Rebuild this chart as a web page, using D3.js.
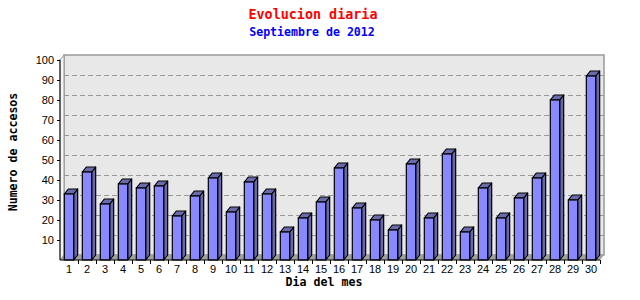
<!DOCTYPE html>
<html>
<head>
<meta charset="utf-8">
<script src="https://cdn.jsdelivr.net/npm/d3@7"></script>
<style>
  html, body { margin: 0; padding: 0; background: #fff; }
  svg { display: block; }
</style>
</head>
<body>
<svg id="chart" width="640" height="300"></svg>
<script>
const days = d3.range(1, 31).map(String);
const accesos = [33, 44, 28, 38, 36, 37, 22, 32, 41, 24, 39, 33, 14, 21, 29, 46, 26, 20, 15, 48, 21, 53, 14, 36, 21, 31, 41, 80, 30, 92];
const yTicks = [10, 20, 30, 40, 50, 60, 70, 80, 90, 100];
const titleText = "Evolucion diaria";
const subtitleText = "Septiembre de 2012";
const yTitle = "Numero de accesos";
const xTitle = "Dia del mes";

(function () {
const svg = d3.select("#chart");
const pl = 60, pr = 600, pt = 60, pb = 260;
const dx = 4, dy = 5;

const x = d3.scaleBand().domain(days).range([pl, pr]).paddingInner(0.48).paddingOuter(0.24);
const y = d3.scaleLinear().domain([0, 100]).range([pb, pt]);

// back wall
svg.append("rect")
  .attr("x", pl + dx).attr("y", pt - dy)
  .attr("width", pr - pl).attr("height", pb - pt)
  .attr("fill", "#e8e8e8").attr("stroke", "#999").attr("stroke-width", 1.5);

// left wall
svg.append("path")
  .attr("d", `M${pl},${pb}L${pl},${pt}L${pl+dx},${pt-dy}L${pl+dx},${pb-dy}Z`)
  .attr("fill", "#f4f4f4").attr("stroke", "#999").attr("stroke-width", 1);

// floor
svg.append("path")
  .attr("d", `M${pl},${pb}L${pl+dx},${pb-dy}L${pr+dx},${pb-dy}L${pr},${pb}Z`)
  .attr("fill", "#a0a0a0");

// grid lines on back wall
svg.append("g").selectAll("line").data(yTicks.filter(d => d < 100)).join("line")
  .attr("x1", pl + dx).attr("x2", pr + dx)
  .attr("y1", d => Math.round(y(d) - dy) + 0.5).attr("y2", d => Math.round(y(d) - dy) + 0.5)
  .attr("stroke", "#999").attr("stroke-dasharray", "5,3");

// bars
const bars = svg.append("g").selectAll("g").data(days).join("g");
bars.each(function(d, i) {
  const g = d3.select(this);
  const x0 = x(d), w = x.bandwidth(), y0 = y(accesos[i]), yb = y(0);
  g.append("path")
    .attr("d", `M${x0+w},${yb}L${x0+w},${y0}L${x0+w+dx},${y0-dy}L${x0+w+dx},${yb-dy}Z`)
    .attr("fill", "#6868a8").attr("stroke", "#000").attr("stroke-width", 1.2).attr("stroke-linejoin", "round");
  g.append("path")
    .attr("d", `M${x0},${y0}L${x0+dx},${y0-dy}L${x0+w+dx},${y0-dy}L${x0+w},${y0}Z`)
    .attr("fill", "#6b6bab").attr("stroke", "#000").attr("stroke-width", 1.2).attr("stroke-linejoin", "round");
  g.append("rect")
    .attr("x", x0).attr("y", y0).attr("width", w).attr("height", yb - y0)
    .attr("fill", "#8888ff").attr("stroke", "#000").attr("stroke-width", 1.2);
});

// y axis
const yAxis = d3.axisLeft(y).tickValues(yTicks).tickSize(3).tickPadding(3);
const gy = svg.append("g").attr("transform", `translate(${pl},0)`).call(yAxis);
gy.select(".domain").attr("d", `M-0.5,${pt}H0V${pb}`).attr("stroke", "#000");
gy.selectAll("text").attr("font-family", "Liberation Sans, Arial, sans-serif").attr("font-size", 11).attr("fill", "#000");

// x axis
const xAxis = d3.axisBottom(x).tickSize(0).tickPadding(5);
const gx = svg.append("g").attr("transform", `translate(0,${pb})`).call(xAxis);
gx.select(".domain").attr("d", `M${pl},0H${pr}`).attr("stroke", "#000");
gx.selectAll("text").attr("font-family", "Liberation Sans, Arial, sans-serif").attr("font-size", 11).attr("fill", "#000");
// boundary tick marks
gx.append("g").selectAll("line").data(days).join("line")
  .attr("x1", d => x(d) - x.step() * 0.24 + x.step() + 0.5)
  .attr("x2", d => x(d) - x.step() * 0.24 + x.step() + 0.5)
  .attr("y1", 0).attr("y2", 4).attr("stroke", "#000");

// titles
svg.append("text").attr("x", 313).attr("y", 19).attr("text-anchor", "middle")
  .attr("font-family", "DejaVu Sans Mono, monospace").attr("font-weight", "bold").attr("font-size", 13.4)
  .attr("fill", "#ff0000").text(titleText);
svg.append("text").attr("x", 312).attr("y", 36).attr("text-anchor", "middle")
  .attr("font-family", "DejaVu Sans Mono, monospace").attr("font-weight", "bold").attr("font-size", 11.6)
  .attr("fill", "#0000ff").text(subtitleText);
svg.append("text").attr("transform", "translate(17,152) rotate(-90)").attr("text-anchor", "middle")
  .attr("font-family", "DejaVu Sans Mono, monospace").attr("font-weight", "bold").attr("font-size", 11.6)
  .attr("fill", "#000").text(yTitle);
svg.append("text").attr("x", 324).attr("y", 286).attr("text-anchor", "middle")
  .attr("font-family", "DejaVu Sans Mono, monospace").attr("font-weight", "bold").attr("font-size", 11.6)
  .attr("fill", "#000").text(xTitle);
})();
</script>
</body>
</html>
